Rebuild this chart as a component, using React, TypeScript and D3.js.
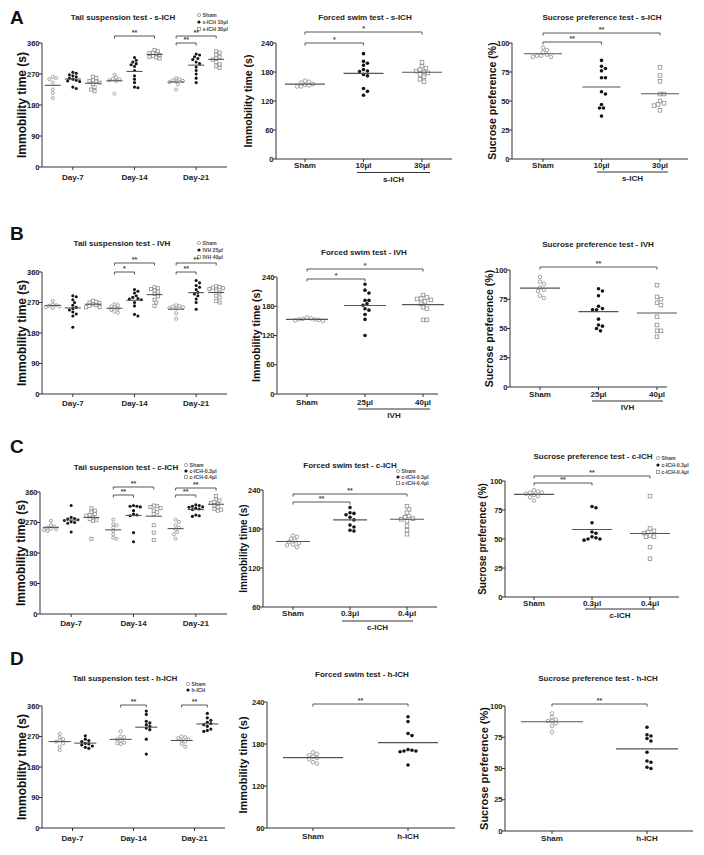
import React from 'react';
import * as d3 from 'd3';

const FONT = '"Liberation Sans", Arial, Helvetica, sans-serif';

// ---------- shared categories / ticks ----------
const days = ['Day-7', 'Day-14', 'Day-21'];
const tstTicks = [0, 90, 180, 270, 360];
const fstTicks = [0, 60, 120, 180, 240];
const fstTicks60 = [60, 120, 180, 240];
const sptTicks = [0, 25, 50, 75, 100];

// ---------- A: s-ICH ----------
const aSeries = ['Sham', 's-ICH 10μl', 's-ICH 30μl'];
const aCats = ['Sham', '10μl', '30μl'];
const aTstSham7 = [262, 258, 255, 245, 225, 215, 200];
const aTst10_7 = [275, 272, 268, 265, 262, 258, 255, 252, 250, 248, 232, 228];
const aTst30_7 = [262, 258, 252, 250, 248, 245, 240, 232, 225, 220];
const aTstSham14 = [268, 260, 256, 254, 252, 250, 213];
const aTst10_14 = [318, 310, 305, 300, 297, 292, 280, 265, 255, 245, 232, 230];
const aTst30_14 = [340, 336, 332, 330, 328, 325, 322, 320, 318, 315];
const aTstSham21 = [258, 255, 252, 250, 248, 246, 240, 225];
const aTst10_21 = [328, 325, 320, 315, 312, 305, 300, 290, 280, 270, 258, 245];
const aTst30_21 = [336, 332, 326, 320, 316, 312, 305, 298, 292, 288];
const aFstSham = [162, 160, 158, 155, 153, 152, 150, 150];
const aFst10 = [218, 202, 198, 194, 185, 182, 181, 175, 172, 146, 140, 132];
const aFst30 = [200, 192, 188, 185, 182, 180, 178, 175, 170, 165, 160];
const aSptSham = [96, 94, 92, 90, 89, 89, 88, 88];
const aSpt10 = [85, 80, 78, 76, 70, 70, 58, 56, 47, 44, 44, 37];
const aSpt30 = [79, 72, 67, 56, 56, 50, 48, 47, 46, 42];

// ---------- B: IVH ----------
const bSeries = ['Sham', 'IVH 25μl', 'IVH 40μl'];
const bCats = ['Sham', '25μl', '40μl'];
const bTstSham7 = [275, 264, 262, 260, 258, 256, 254];
const bTst25_7 = [290, 287, 278, 270, 262, 256, 252, 248, 242, 236, 230, 197];
const bTst40_7 = [275, 272, 270, 268, 265, 262, 260, 256, 256];
const bTstSham14 = [265, 262, 258, 255, 252, 248, 243, 240];
const bTst25_14 = [308, 303, 298, 290, 285, 282, 280, 278, 270, 260, 235, 230];
const bTst40_14 = [315, 312, 310, 305, 300, 295, 288, 278, 270, 260];
const bTstSham21 = [262, 260, 258, 256, 254, 252, 238, 222];
const bTst25_21 = [335, 328, 320, 315, 308, 300, 295, 290, 280, 270, 250];
const bTst40_21 = [318, 316, 314, 312, 310, 305, 300, 290, 285, 275, 270];
const bFstSham = [157, 155, 154, 153, 153, 152, 151, 150];
const bFst25 = [225, 213, 207, 192, 192, 185, 182, 175, 172, 163, 153, 120];
const bFst40 = [203, 198, 196, 195, 193, 190, 185, 178, 175, 152, 152];
const bSptSham = [94, 90, 88, 85, 83, 82, 78, 76];
const bSpt25 = [84, 82, 78, 69, 67, 66, 66, 58, 53, 52, 50, 48];
const bSpt40 = [87, 77, 75, 72, 70, 60, 53, 48, 48, 43];

// ---------- C: c-ICH ----------
const cSeries = ['Sham', 'c-ICH-0.3μl', 'c-ICH-0.4μl'];
const cCats = ['Sham', '0.3μl', '0.4μl'];
const cTstSham7 = [275, 262, 258, 255, 252, 250, 248, 245];
const cTst03_7 = [320, 285, 282, 280, 278, 276, 272, 270, 268, 242];
const cTst04_7 = [312, 305, 300, 295, 292, 290, 285, 280, 278, 275, 222];
const cTstSham14 = [278, 265, 262, 255, 245, 235, 225, 222];
const cTst03_14 = [320, 318, 318, 316, 305, 295, 292, 290, 240, 213];
const cTst04_14 = [320, 318, 316, 312, 305, 300, 295, 262, 240, 218];
const cTstSham21 = [278, 272, 262, 255, 250, 242, 235, 222];
const cTst03_21 = [322, 320, 318, 316, 315, 312, 310, 308, 292, 290, 288];
const cTst04_21 = [348, 338, 335, 330, 328, 325, 320, 315, 310, 308, 305];
const cFstSham = [170, 168, 165, 162, 160, 158, 156, 155, 152];
const cFst03 = [213, 205, 204, 202, 198, 194, 186, 183, 178, 177];
const cFst04 = [215, 210, 205, 200, 198, 196, 195, 192, 185, 178, 172];
const cSptSham = [92, 91, 90, 90, 89, 88, 87, 86, 83];
const cSpt03 = [78, 77, 64, 56, 55, 52, 51, 50, 50, 49];
const cSpt04 = [87, 59, 57, 56, 55, 53, 52, 52, 43, 33];

// ---------- D: h-ICH ----------
const dSeries = ['Sham', 'h-ICH'];
const dCats = ['Sham', 'h-ICH'];
const dTstSham7 = [278, 268, 262, 258, 255, 250, 240, 230];
const dTstH7 = [272, 262, 258, 255, 250, 248, 245, 242, 238, 235];
const dTstSham14 = [285, 270, 268, 262, 258, 252, 250, 248];
const dTstH14 = [345, 335, 315, 310, 305, 300, 295, 290, 262, 218];
const dTstSham21 = [270, 268, 265, 262, 258, 255, 248, 240];
const dTstH21 = [338, 325, 318, 312, 308, 305, 300, 292, 288, 285];
const dFstSham = [168, 166, 164, 162, 160, 158, 154, 152];
const dFstH = [219, 212, 195, 192, 172, 171, 170, 170, 169, 150];
const dSptSham = [94, 91, 89, 88, 88, 86, 84, 79];
const dSptH = [83, 77, 76, 74, 72, 63, 56, 55, 51, 50];

type Marker = 'open' | 'filled' | 'square';
const markerOrder: Marker[] = ['open', 'filled', 'square'];
const GRAY = '#8e8e8e';
const BLACK = '#151515';
const AXIS = '#333';

function Mark({ m, x, y, r }: { m: Marker; x: number; y: number; r: number }) {
  if (m === 'filled') return <circle cx={x} cy={y} r={r} fill={BLACK} />;
  if (m === 'square')
    return <rect x={x - r} y={y - r} width={2 * r} height={2 * r} fill="#fff" stroke={GRAY} strokeWidth={0.8} />;
  return <circle cx={x} cy={y} r={r} fill="#fff" stroke={GRAY} strokeWidth={0.8} />;
}

function swarm(values: number[], y: (v: number) => number, cx: number, r: number) {
  const placed: { x: number; y: number }[] = [];
  const sorted = [...values].sort((a, b) => b - a);
  for (const v of sorted) {
    const py = y(v);
    let px = cx;
    for (let k = 0; k < 40; k++) {
      const off = k === 0 ? 0 : Math.ceil(k / 2) * r * 1.1 * (k % 2 ? 1 : -1);
      px = cx + off;
      if (placed.every((p) => Math.hypot(p.x - px, p.y - py) >= r * 2.05)) break;
    }
    placed.push({ x: px, y: py });
  }
  return placed;
}

type BracketDef = { a: number[]; b: number[]; y: number; s: string };

function Panel({ p }: { p: any }) {
  const y = d3.scaleLinear().domain(p.domain).range([p.yBot, p.yTop]);
  const r = p.r ?? 1.8;
  const groups: { x: number; values: number[]; m: Marker }[] = [];
  let xOf: (idx: number[]) => number;
  let xLabels: { x: number; t: string }[] = [];
  if (p.kind === 'tail') {
    const outer = d3.scaleBand<string>().domain(days).range([p.x0, p.x1]);
    const inner = d3.scalePoint<string>().domain(p.series).range([0, outer.bandwidth()]).padding(p.innerPad);
    xOf = ([d, g]) => (outer(days[d]) as number) + (inner(p.series[g]) as number);
    p.data.forEach((dayArr: number[][], d: number) =>
      dayArr.forEach((vals, g) => groups.push({ x: xOf([d, g]), values: vals, m: markerOrder[g] }))
    );
    xLabels = days.map((t) => ({ x: (outer(t) as number) + outer.bandwidth() / 2, t }));
  } else {
    const sx = d3.scalePoint<string>().domain(p.cats).range(p.catRange);
    xOf = ([c]) => sx(p.cats[c]) as number;
    p.data.forEach((vals: number[], c: number) => groups.push({ x: sx(p.cats[c]) as number, values: vals, m: markerOrder[c] }));
    xLabels = p.cats.map((t: string) => ({ x: sx(t) as number, t }));
  }
  const ymid = (p.yTop + p.yBot) / 2;
  return (
    <g fontFamily={FONT}>
      {p.letter && (
        <text x={10} y={p.letterY} fontSize={19} fontWeight="bold" fill="#111">
          {p.letter}
        </text>
      )}
      <text x={p.titleX} y={p.titleY} dy="0.35em" textAnchor="middle" fontSize={8} fontWeight="bold" fill="#222">
        {p.title}
      </text>
      {p.legendYs &&
        p.series.map((s: string, i: number) => (
          <g key={s}>
            <Mark m={markerOrder[i]} x={p.legendX} y={p.legendYs[i]} r={1.6} />
            <text x={p.legendX + 3.5} y={p.legendYs[i]} dy="0.35em" fontSize={5.2} fontWeight="bold" fill="#444">
              {s}
            </text>
          </g>
        ))}
      {/* axes */}
      <line x1={p.x0} x2={p.x0} y1={p.yTop} y2={p.yBot} stroke={AXIS} strokeWidth={1} />
      <line x1={p.x0} x2={p.x1} y1={p.yBot} y2={p.yBot} stroke={AXIS} strokeWidth={1} />
      {p.ticks.map((t: number) => (
        <g key={t}>
          <line x1={p.x0 - 3} x2={p.x0} y1={y(t)} y2={y(t)} stroke={AXIS} strokeWidth={1} />
          <text x={p.x0 - 2.5} y={y(t)} dy="0.35em" textAnchor="end" fontSize={7.5} fontWeight="bold" fill="#222">
            {t}
          </text>
        </g>
      ))}
      {xLabels.map((l) => (
        <g key={l.t}>
          <line x1={l.x} x2={l.x} y1={p.yBot} y2={p.yBot + 3} stroke={AXIS} strokeWidth={1} />
          <text x={l.x} y={p.labelY} dy="0.35em" textAnchor="middle" fontSize={8} fontWeight="bold" fill="#222">
            {l.t}
          </text>
        </g>
      ))}
      {p.underline && (
        <g>
          <line x1={p.underline.from} x2={p.underline.to} y1={p.underline.y} y2={p.underline.y} stroke={AXIS} strokeWidth={1} />
          <text
            x={(p.underline.from + p.underline.to) / 2}
            y={p.underline.y + 6.5}
            dy="0.35em"
            textAnchor="middle"
            fontSize={8}
            fontWeight="bold"
            fill="#222"
          >
            {p.underline.text}
          </text>
        </g>
      )}
      <text
        transform={`translate(${p.ylabelX},${ymid}) rotate(-90)`}
        dy="0.35em"
        textAnchor="middle"
        fontSize={p.ylabelSize}
        fontWeight="bold"
        fill="#111"
      >
        {p.ylabel}
      </text>
      {/* points */}
      {groups.map((g, gi) => (
        <g key={gi}>
          {swarm(g.values, y, g.x, r).map((pt, i) => (
            <Mark key={i} m={g.m} x={pt.x} y={pt.y} r={r} />
          ))}
          <line
            x1={g.x - p.meanHalf}
            x2={g.x + p.meanHalf}
            y1={y(d3.mean(g.values) as number)}
            y2={y(d3.mean(g.values) as number)}
            stroke="#555"
            strokeWidth={1.1}
          />
        </g>
      ))}
      {/* brackets */}
      {p.brackets.map((b: BracketDef, i: number) => {
        const xa = xOf(b.a);
        const xb = xOf(b.b);
        return (
          <g key={i}>
            <path d={`M${xa},${b.y + 2.5}V${b.y}H${xb}V${b.y + 2.5}`} fill="none" stroke="#444" strokeWidth={0.9} />
            <text x={(xa + xb) / 2} y={b.y - 1.5} textAnchor="middle" fontSize={7} fontWeight="bold" fill="#444">
              {b.s}
            </text>
          </g>
        );
      })}
    </g>
  );
}

const panels: any[] = [
  // ---------- Row A ----------
  {
    kind: 'tail', letter: 'A', letterY: 24, x0: 42, x1: 227, yTop: 43, yBot: 167, domain: [0, 360], ticks: tstTicks,
    series: aSeries, innerPad: 0.54, meanHalf: 8, r: 1.55,
    data: [[aTstSham7, aTst10_7, aTst30_7], [aTstSham14, aTst10_14, aTst30_14], [aTstSham21, aTst10_21, aTst30_21]],
    title: 'Tail suspension test - s-ICH', titleX: 123, titleY: 17, legendX: 199, legendYs: [15, 22, 29],
    labelY: 177, ylabel: 'Immobility time (s)', ylabelX: 22, ylabelSize: 12,
    brackets: [
      { a: [1, 0], b: [1, 2], y: 36, s: '**' },
      { a: [2, 0], b: [2, 1], y: 43, s: '**' },
      { a: [2, 0], b: [2, 2], y: 36, s: '**' },
    ],
  },
  {
    kind: 'cat', x0: 276, x1: 452, yTop: 43, yBot: 159, domain: [0, 240], ticks: fstTicks, cats: aCats, catRange: [305, 422],
    data: [aFstSham, aFst10, aFst30], meanHalf: 20,
    title: 'Forced swim test - s-ICH', titleX: 365, titleY: 17, labelY: 165,
    underline: { from: 357, to: 430, y: 172.5, text: 's-ICH' },
    ylabel: 'Immobility time (s)', ylabelX: 248, ylabelSize: 10.5,
    brackets: [
      { a: [0], b: [1], y: 43, s: '*' },
      { a: [0], b: [2], y: 32, s: '*' },
    ],
  },
  {
    kind: 'cat', x0: 512, x1: 688, yTop: 43, yBot: 159, domain: [0, 100], ticks: sptTicks, cats: aCats, catRange: [543, 660],
    data: [aSptSham, aSpt10, aSpt30], meanHalf: 19,
    title: 'Sucrose preference test - s-ICH', titleX: 602, titleY: 17, labelY: 165,
    underline: { from: 597, to: 668, y: 172, text: 's-ICH' },
    ylabel: 'Sucrose preference (%)', ylabelX: 492, ylabelSize: 10.5,
    brackets: [
      { a: [0], b: [1], y: 42, s: '**' },
      { a: [0], b: [2], y: 33, s: '**' },
    ],
  },
  // ---------- Row B ----------
  {
    kind: 'tail', letter: 'B', letterY: 240, x0: 42, x1: 227, yTop: 272, yBot: 394, domain: [0, 360], ticks: tstTicks,
    series: bSeries, innerPad: 0.54, meanHalf: 8, r: 1.55,
    data: [[bTstSham7, bTst25_7, bTst40_7], [bTstSham14, bTst25_14, bTst40_14], [bTstSham21, bTst25_21, bTst40_21]],
    title: 'Tail suspension test - IVH', titleX: 122, titleY: 243, legendX: 199, legendYs: [243, 250, 257],
    labelY: 403, ylabel: 'Immobility time (s)', ylabelX: 22, ylabelSize: 12,
    brackets: [
      { a: [1, 0], b: [1, 1], y: 272, s: '*' },
      { a: [1, 0], b: [1, 2], y: 263, s: '**' },
      { a: [2, 0], b: [2, 1], y: 272, s: '**' },
      { a: [2, 0], b: [2, 2], y: 263, s: '**' },
    ],
  },
  {
    kind: 'cat', x0: 277, x1: 438, yTop: 277, yBot: 394, domain: [0, 240], ticks: fstTicks, cats: bCats, catRange: [307, 423],
    data: [bFstSham, bFst25, bFst40], meanHalf: 21,
    title: 'Forced swim test - IVH', titleX: 364, titleY: 252, labelY: 402,
    underline: { from: 358, to: 430, y: 409, text: 'IVH' },
    ylabel: 'Immobility time (s)', ylabelX: 256, ylabelSize: 10.5,
    brackets: [
      { a: [0], b: [1], y: 279, s: '*' },
      { a: [0], b: [2], y: 269, s: '*' },
    ],
  },
  {
    kind: 'cat', x0: 510, x1: 667, yTop: 270, yBot: 387, domain: [0, 100], ticks: sptTicks, cats: bCats, catRange: [540, 657],
    data: [bSptSham, bSpt25, bSpt40], meanHalf: 20,
    title: 'Sucrose preference test - IVH', titleX: 598, titleY: 244, labelY: 394,
    underline: { from: 592, to: 663, y: 401, text: 'IVH' },
    ylabel: 'Sucrose preference (%)', ylabelX: 489, ylabelSize: 10.5,
    brackets: [{ a: [0], b: [2], y: 267, s: '**' }],
  },
  // ---------- Row C ----------
  {
    kind: 'tail', letter: 'C', letterY: 453, x0: 40, x1: 227, yTop: 492, yBot: 614, domain: [0, 360], ticks: tstTicks,
    series: cSeries, innerPad: 0.54, meanHalf: 8, r: 1.55,
    data: [[cTstSham7, cTst03_7, cTst04_7], [cTstSham14, cTst03_14, cTst04_14], [cTstSham21, cTst03_21, cTst04_21]],
    title: 'Tail suspension test - c-ICH', titleX: 126, titleY: 467, legendX: 186, legendYs: [465, 471, 477],
    labelY: 623, ylabel: 'Immobility time (s)', ylabelX: 21, ylabelSize: 12,
    brackets: [
      { a: [1, 0], b: [1, 1], y: 495, s: '**' },
      { a: [1, 0], b: [1, 2], y: 487, s: '**' },
      { a: [2, 0], b: [2, 1], y: 495, s: '**' },
      { a: [2, 0], b: [2, 2], y: 488, s: '**' },
    ],
  },
  {
    kind: 'cat', x0: 263, x1: 437, yTop: 490, yBot: 607, domain: [60, 240], ticks: fstTicks60, cats: cCats, catRange: [293, 407],
    data: [cFstSham, cFst03, cFst04], meanHalf: 17, series: cSeries, legendX: 398, legendYs: [471, 477, 483],
    title: 'Forced swim test - c-ICH', titleX: 350, titleY: 465, labelY: 613,
    underline: { from: 342, to: 413, y: 621, text: 'c-ICH' },
    ylabel: 'Immobility time (s)', ylabelX: 243, ylabelSize: 10,
    brackets: [
      { a: [0], b: [1], y: 502, s: '**' },
      { a: [0], b: [2], y: 494, s: '**' },
    ],
  },
  {
    kind: 'cat', x0: 505, x1: 679, yTop: 481, yBot: 597, domain: [0, 100], ticks: sptTicks, cats: cCats, catRange: [534, 650],
    data: [cSptSham, cSpt03, cSpt04], meanHalf: 20, series: cSeries, legendX: 658, legendYs: [458, 465, 472],
    title: 'Sucrose preference test - c-ICH', titleX: 593, titleY: 456, labelY: 603,
    underline: { from: 585, to: 655, y: 609, text: 'c-ICH' },
    ylabel: 'Sucrose preference (%)', ylabelX: 482, ylabelSize: 10,
    brackets: [
      { a: [0], b: [1], y: 483, s: '**' },
      { a: [0], b: [2], y: 476, s: '**' },
    ],
  },
  // ---------- Row D ----------
  {
    kind: 'tail', letter: 'D', letterY: 665, x0: 42, x1: 225, yTop: 706, yBot: 828, domain: [0, 360], ticks: tstTicks,
    series: dSeries, innerPad: 0.69, meanHalf: 11, r: 1.6,
    data: [[dTstSham7, dTstH7], [dTstSham14, dTstH14], [dTstSham21, dTstH21]],
    title: 'Tail suspension test - h-ICH', titleX: 125, titleY: 678, legendX: 188, legendYs: [684, 690],
    labelY: 838, ylabel: 'Immobility time (s)', ylabelX: 22, ylabelSize: 12,
    brackets: [
      { a: [1, 0], b: [1, 1], y: 705, s: '**' },
      { a: [2, 0], b: [2, 1], y: 705, s: '**' },
    ],
  },
  {
    kind: 'cat', x0: 267, x1: 455, yTop: 702, yBot: 828, domain: [60, 240], ticks: fstTicks60, cats: dCats, catRange: [313, 408],
    data: [dFstSham, dFstH], meanHalf: 30,
    title: 'Forced swim test - h-ICH', titleX: 362, titleY: 674, labelY: 836,
    ylabel: 'Immobility time (s)', ylabelX: 243, ylabelSize: 11,
    brackets: [{ a: [0], b: [1], y: 704, s: '**' }],
  },
  {
    kind: 'cat', x0: 505, x1: 693, yTop: 706, yBot: 831, domain: [0, 100], ticks: sptTicks, cats: dCats, catRange: [552, 647],
    data: [dSptSham, dSptH], meanHalf: 31,
    title: 'Sucrose preference test - h-ICH', titleX: 598, titleY: 678, labelY: 838,
    ylabel: 'Sucrose preference (%)', ylabelX: 484, ylabelSize: 11,
    brackets: [{ a: [0], b: [1], y: 704, s: '**' }],
  },
];

export default function App() {
  return (
    <svg
      width={704}
      height={855}
      viewBox="0 0 704 855"
      style={{ position: 'absolute', left: 0, top: 0, display: 'block', background: '#fff' }}
    >
      <rect width={704} height={855} fill="#fff" />
      {panels.map((p, i) => (
        <Panel key={i} p={p} />
      ))}
    </svg>
  );
}
